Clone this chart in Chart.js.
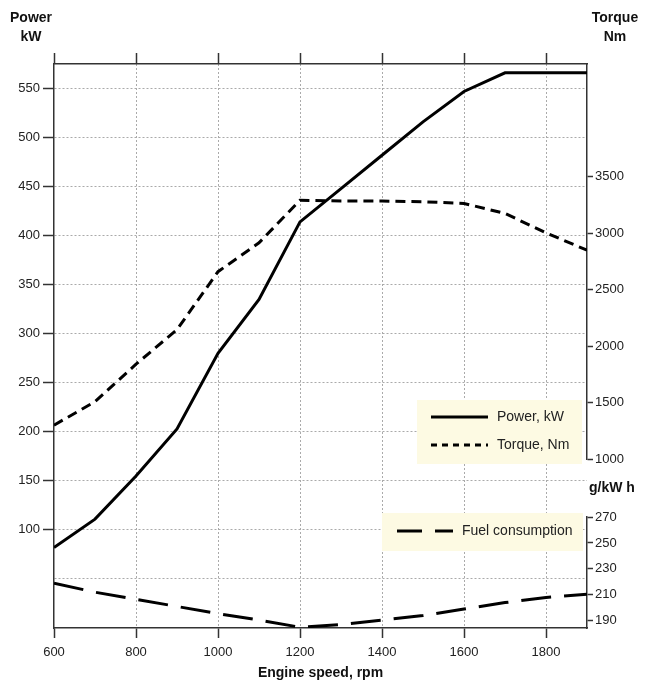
<!DOCTYPE html>
<html>
<head>
<meta charset="utf-8">
<title>Engine characteristics</title>
<script src="https://cdn.jsdelivr.net/npm/chart.js@4.4.1/dist/chart.umd.min.js"></script>
<style>
  html, body { margin: 0; padding: 0; background: #fff; }
  #wrap { width: 646px; height: 682px; position: relative; }
</style>
</head>
<body>
<div id="wrap"><canvas id="chart"></canvas></div>
<script>
// engine speed, rpm
const rpm = [600, 700, 800, 900, 1000, 1100, 1200, 1300, 1400, 1500, 1600, 1700, 1800, 1900];

// curves
const powerKw = [82, 111, 155, 203, 280, 335, 414, 448, 482, 516, 547, 566, 566, 566];
const torqueNm = [1300, 1508, 1840, 2146, 2660, 2916, 3292, 3286, 3286, 3280, 3264, 3176, 3004, 2850];
const fuelGkwh = [219, 212, 206.5, 201, 195.5, 190.5, 185, 187, 190.5, 194, 199, 204, 208, 210.5];

// tick labels
const rpmTicks = [600, 800, 1000, 1200, 1400, 1600, 1800];
const powerTicks = [0, 50, 100, 150, 200, 250, 300, 350, 400, 450, 500, 550];
const torqueTicks = [1000, 1500, 2000, 2500, 3000, 3500];
const fuelTicks = [190, 210, 230, 250, 270];

const AXIS = "#333";
const GRID = "#aaa";
const TEXT = "#222";
const NONE = "rgba(0,0,0,0)";

Chart.defaults.font.family = '"Liberation Sans", Arial, sans-serif';
Chart.defaults.font.size = 13;
Chart.defaults.color = TEXT;

function pts(ys) {
    return ys.map((y, i) => ({ x: rpm[i], y }));
}

function fixTicks(list) {
    return scale => { scale.ticks = list.map(v => ({ value: v })); };
}

const plain = v => String(v);

// axis captions + the two boxed legends drawn inside the plot
const overlay = {
    id: "overlay",
    afterDraw(chart) {
        const { ctx, chartArea: a, scales } = chart;
        ctx.save();
        ctx.fillStyle = "#111";
        ctx.textBaseline = "middle";
        ctx.font = 'bold 14px "Liberation Sans", Arial, sans-serif';
        ctx.textAlign = "center";
        ctx.fillText("Power", a.left - 23, a.top - 46);
        ctx.fillText("kW", a.left - 23, a.top - 27);
        ctx.fillText("Torque", a.right + 28, a.top - 46);
        ctx.fillText("Nm", a.right + 28, a.top - 27);
        ctx.textAlign = "left";
        ctx.fillText("g/kW h", a.right + 2, scales.yFuel.top - 29);

        const boxes = [
            { x: a.right - 170, y: a.top + 336, w: 165, h: 64, rows: [
                { ds: 0, dash: [], y: 17, x0: 14, x1: 71 },
                { ds: 1, dash: [6, 5], y: 45, x0: 14, x1: 71 }
            ] },
            { x: a.right - 205, y: a.top + 449, w: 201, h: 38, rows: [
                { ds: 2, dash: [25, 13], y: 18, x0: 15, x1: 71 }
            ] }
        ];
        ctx.font = '14px "Liberation Sans", Arial, sans-serif';
        for (const b of boxes) {
            ctx.fillStyle = "#fdfae3";
            ctx.fillRect(b.x, b.y, b.w, b.h);
            for (const r of b.rows) {
                const ds = chart.data.datasets[r.ds];
                ctx.strokeStyle = "#000";
                ctx.lineWidth = 3;
                ctx.setLineDash(r.dash);
                ctx.beginPath();
                ctx.moveTo(b.x + r.x0, b.y + r.y);
                ctx.lineTo(b.x + r.x1, b.y + r.y);
                ctx.stroke();
                ctx.setLineDash([]);
                ctx.fillStyle = TEXT;
                ctx.fillText(ds.label, b.x + r.x1 + 9, b.y + r.y);
            }
        }
        ctx.restore();
    }
};

const lineStyle = { borderColor: "#000", borderWidth: 3, pointRadius: 0, tension: 0, fill: false };

new Chart(document.getElementById("chart"), {
    type: "line",
    data: {
        datasets: [
            { label: "Power, kW", data: pts(powerKw), xAxisID: "x", yAxisID: "yPower", ...lineStyle },
            { label: "Torque, Nm", data: pts(torqueNm), xAxisID: "x", yAxisID: "yTorque", borderDash: [10, 6], ...lineStyle },
            { label: "Fuel consumption", data: pts(fuelGkwh), xAxisID: "x", yAxisID: "yFuel", borderDash: [30, 13], ...lineStyle }
        ]
    },
    options: {
        responsive: true,
        maintainAspectRatio: false,
        animation: false,
        layout: { padding: 0 },
        plugins: { legend: { display: false }, tooltip: { enabled: false } },
        scales: {
            x: {
                type: "linear", position: "bottom", min: 600, max: 1900,
                afterBuildTicks: fixTicks(rpmTicks),
                afterFit: s => { s.height = 54; },
                grid: {
                    color: c => (c.tick && c.tick.value === 600) ? NONE : GRID,
                    lineWidth: 1, tickLength: 10, tickColor: AXIS, tickWidth: 1.5
                },
                border: { color: AXIS, width: 1.5, dash: [2, 2] },
                ticks: { padding: 7, maxRotation: 0, autoSkip: false, color: TEXT, callback: plain },
                title: {
                    display: true, text: "Engine speed, rpm", color: "#111",
                    font: { size: 14, weight: "bold" }, padding: 0
                }
            },
            xTop: {
                type: "linear", axis: "x", position: "top", min: 600, max: 1900,
                afterBuildTicks: fixTicks(rpmTicks),
                afterFit: s => { s.height = 64; },
                grid: { drawOnChartArea: false, tickLength: 11, tickColor: AXIS, tickWidth: 1.5 },
                border: { color: AXIS, width: 1.5 },
                ticks: { display: false }
            },
            yPower: {
                type: "linear", axis: "y", position: "left", min: 0, max: 575,
                afterBuildTicks: fixTicks(powerTicks),
                afterFit: s => { s.width = 54; },
                grid: {
                    color: c => (c.tick && c.tick.value === 0) ? NONE : GRID,
                    lineWidth: 1, tickLength: 11, tickWidth: 1.5,
                    tickColor: c => (c.tick && c.tick.value >= 100) ? AXIS : NONE
                },
                border: { color: AXIS, width: 1.5, dash: [2, 2] },
                ticks: { padding: 3, autoSkip: false, color: TEXT, callback: v => v >= 100 ? String(v) : "" }
            },
            // right side: torque on top, an empty spacer, fuel at the bottom
            yTorque: {
                type: "linear", axis: "y", position: "right", stack: "right", stackWeight: 395, weight: 1,
                min: 1000, max: 4500,
                afterBuildTicks: fixTicks(torqueTicks),
                afterFit: s => { s.width = 59; },
                grid: { drawOnChartArea: false, tickLength: 6, tickColor: AXIS, tickWidth: 1.5 },
                border: { color: AXIS, width: 1.5 },
                ticks: { padding: 2, autoSkip: false, color: TEXT, callback: plain }
            },
            yGap: {
                type: "linear", axis: "y", position: "right", stack: "right", stackWeight: 58, weight: 2,
                min: 0, max: 1,
                afterFit: s => { s.width = 59; },
                grid: { display: false },
                border: { display: false },
                ticks: { display: false }
            },
            yFuel: {
                type: "linear", axis: "y", position: "right", stack: "right", stackWeight: 111, weight: 3,
                min: 184.4, max: 270,
                afterBuildTicks: fixTicks(fuelTicks),
                afterFit: s => { s.width = 59; },
                grid: { drawOnChartArea: false, tickLength: 6, tickColor: AXIS, tickWidth: 1.5 },
                border: { color: AXIS, width: 1.5 },
                ticks: { padding: 2, autoSkip: false, color: TEXT, callback: plain }
            }
        }
    },
    plugins: [overlay]
});
</script>
</body>
</html>
